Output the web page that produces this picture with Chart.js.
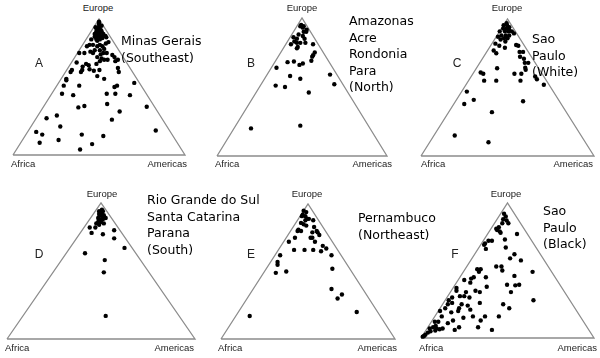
<!DOCTYPE html>
<html><head><meta charset="utf-8">
<script src="https://cdn.jsdelivr.net/npm/chart.js@4.4.1/dist/chart.umd.min.js"></script>
<style>
html,body{margin:0;padding:0;background:#fff;}
#wrap{position:relative;width:600px;height:358px;overflow:hidden;background:#fff;}
canvas{position:absolute;}
.ax{position:absolute;font:9.5px "Liberation Sans",Arial,sans-serif;color:#222;white-space:nowrap;line-height:10px;}
.let{position:absolute;font:12px "Liberation Sans",Arial,sans-serif;color:#222;line-height:12px;transform:translate(-50%,-50%);}
.reg{position:absolute;font:12.5px "DejaVu Sans",sans-serif;color:#000;line-height:16.5px;white-space:nowrap;}
</style></head><body><div id="wrap"></div>
<script>
// ---- data (ternary proportions: Europe, Americas; Africa = remainder) ----
const vertexLabels = ["Europe", "Africa", "Americas"];
const panelLetters = ["A", "B", "C", "D", "E", "F"];
const regionNames = [
  ["Minas Gerais", "(Southeast)"],
  ["Amazonas", "Acre", "Rondonia", "Para", "(North)"],
  ["Sao", "Paulo", "(White)"],
  ["Rio Grande do Sul", "Santa Catarina", "Parana", "(South)"],
  ["Pernambuco", "(Northeast)"],
  ["Sao", "Paulo", "(Black)"]
];

const aEurope = [.98,.97,.96,.95,.94,.94,.93,.92,.92,.91,.91,.91,.90,.89,.89,.89,.89,.88,.87,.87,.87,.87,.875,.865,.86,.85,.85,.85,.84,
  .82,.83,.81,.81,.81,.80,.80,.80,.78,.77,.77,.76,.75,.75,.75,.75,.75,.74,.735,.72,.72,.71,.70,.70,.70,.69,.69,.68,.67,.66,.65,.67,
  .63,.625,.625,.61,.64,.61,.62,.625,.58,.61,.56,.55,.56,.53,.51,.51,.51,.50,.45,.44,.45,.45,.44,.36,.35,.375,.355,.32,.29,.27,.26,
  .21,.17,.18,.15,.15,.14,.11,.09,.08,.04];
const aAmericas = [.01,.015,.02,.04,.01,.03,.02,.03,.05,.03,.05,.06,.04,.03,.05,.06,.08,.05,.04,.05,.07,.08,.10,.11,.09,.06,.08,.03,.07,
  .13,.14,.10,.06,.04,.03,.09,.12,.14,.12,.09,.07,.04,.01,.09,.15,.17,.14,.21,.23,.13,.16,.26,.20,.18,.25,.16,.03,.09,.11,.08,.15,
  .13,.09,.03,.03,.29,.31,.16,.19,.20,.09,.03,.035,.25,.44,.13,.04,.35,.34,.06,.13,.32,.37,.46,.235,.205,.36,.60,.46,.11,.06,.445,
  .17,.05,.74,.095,.325,.455,.21,.11,.42,.37];

const bEurope = [.95,.94,.915,.90,.90,.94,.93,.88,.87,.86,.85,.85,.81,.82,.82,.82,.81,.78,.79,.83,.75,.73,.72,.69,.68,.685,.66,.67,.64,.58,.56,.59,.51,.50,.52,.46,.20,.22];
const bAmericas = [.02,.04,.07,.06,.075,.02,.04,.04,.07,.02,.045,.09,.03,.06,.08,.11,.16,.08,.08,.04,.20,.20,.20,.21,.075,.11,.155,.17,.03,.14,.21,.37,.09,.15,.43,.31,.10,.38];

const cEurope = [.97,.955,.955,.94,.93,.93,.92,.91,.91,.91,.91,.895,.88,.88,.88,.87,.86,.86,.85,.835,.82,.805,.77,.75,.79,.81,.805,
  .76,.76,.725,.71,.68,.68,.645,.63,.60,.60,.64,.61,.60,.55,.55,.55,.58,.56,.52,.47,.41,.38,.40,.32,.15,.10];
const cAmericas = [.01,.00,.02,.04,.01,.03,.05,.00,.03,.05,.07,.09,.025,.05,.07,.01,.05,.07,.035,.07,.02,.05,.035,.06,.09,.145,.16,
  .19,.21,.21,.24,.26,.28,.28,.29,.28,.24,.12,.04,.06,.09,.16,.30,.37,.39,.45,.03,.10,.06,.39,.25,.12,.34];

const dEurope = [.94,.95,.94,.92,.92,.91,.905,.90,.89,.89,.88,.86,.85,.84,.86,.88,.82,.82,.85,.78,.77,.80,.74,.67,.63,.58,.49,.17];
const dAmericas = [.02,.03,.04,.03,.045,.06,.04,.06,.08,.04,.05,.055,.05,.07,.07,.07,.03,.06,.09,.06,.125,.17,.20,.29,.10,.23,.27,.44];

const eEurope = [.95,.94,.92,.91,.89,.88,.91,.89,.85,.84,.86,.88,.81,.80,.80,.83,.80,.79,.77,.79,.75,.75,.72,.72,.75,.69,.67,.65,.66,.66,.66,.62,.62,.57,.55,.49,.50,.52,.37,.33,.30,.17,.20];
const eAmericas = [.00,.02,.01,.03,.05,.045,.01,.06,.05,.07,.03,.09,.04,.06,.04,.12,.15,.16,.18,.13,.15,.14,.18,.03,.05,.24,.27,.25,.20,.15,.09,.325,.03,.04,.05,.07,.125,.38,.45,.53,.52,.08,.68];

const fEurope = [.92,.90,.88,.87,.85,.85,.82,.81,.80,.79,.78,.77,.73,.72,.72,.70,.69,.66,.67,.62,.59,.575,.53,.53,.50,.51,.51,.49,.49,
  .46,.45,.44,.43,.45,.41,.395,.39,.395,.38,.35,.34,.37,.35,.34,.31,.31,.30,.30,.28,.26,.25,.25,.24,.26,.34,.28,.25,.22,.20,.22,.21,
  .20,.19,.22,.16,.15,.16,.16,.16,.12,.12,.13,.11,.13,.09,.08,.07,.07,.065,.07,.055,.05,.04,.025,.01,.08,.06,.08,.06,.015];
const fAmericas = [.02,.04,.035,.06,.08,.045,.04,.03,.04,.06,.07,.17,.12,.05,.03,.02,.02,.045,.155,.23,.22,.29,.17,.20,.22,.09,.07,.09,.40,
  .31,.15,.07,.035,.08,.08,.30,.35,.37,.19,.14,.17,.02,.03,.09,.07,.095,.13,.03,.02,.05,.03,.11,.15,.21,.35,.51,.35,.11,.115,.03,.18,
  .01,.08,.40,.04,.17,.22,.29,.37,.02,.04,.12,.10,.28,.04,.03,.015,.055,.075,.09,.055,.03,.02,.013,.005,.18,.165,.29,.38,.01];

const europeSeries = [aEurope, bEurope, cEurope, dEurope, eEurope, fEurope];
const americasSeries = [aAmericas, bAmericas, cAmericas, dAmericas, eAmericas, fAmericas];

// ---- layout (triangle boxes and label placement, in page pixels) ----
const frames = [
  {x:13, y:19, w:172, h:136},
  {x:217, y:18, w:170, h:138},
  {x:421, y:19, w:173, h:137},
  {x:7, y:203, w:188, h:136},
  {x:221, y:204, w:174, h:135},
  {x:421, y:203, w:173, h:135}
];
const labelPos = [
  {eu:[98,8],  af:11,  am:187, by:164, let:[39,63],  reg:[121,33]},
  {eu:[302,8], af:215, am:392, by:164, let:[251,63], reg:[349,13]},
  {eu:[507,8], af:421, am:593, by:164, let:[457,63], reg:[532,31]},
  {eu:[102,194], af:5,   am:194, by:348, let:[39,254],  reg:[147,192]},
  {eu:[307,194], af:218, am:397, by:348, let:[251,254], reg:[358,210]},
  {eu:[506,194], af:419, am:597, by:348, let:[455,254], reg:[543,203]}
];

const wrap = document.getElementById('wrap');
function addDiv(cls, text, css) {
  const d = document.createElement('div');
  d.className = cls;
  d.innerHTML = text;
  Object.assign(d.style, css);
  wrap.appendChild(d);
  return d;
}

const triangle = [{x:0,y:0},{x:0.5,y:1},{x:1,y:0},{x:0,y:0}];
const M = 6;

for (let i = 0; i < 6; i++) {
  const f = frames[i];
  const c = document.createElement('canvas');
  c.width = f.w + 2*M; c.height = f.h + 2*M;
  c.style.left = (f.x - M) + 'px'; c.style.top = (f.y - M) + 'px';
  c.style.width = c.width + 'px'; c.style.height = c.height + 'px';
  wrap.appendChild(c);
  const eu = europeSeries[i], am = americasSeries[i];
  const pts = eu.map((e, k) => ({x: am[k] + e / 2, y: e}));
  new Chart(c, {
    type: 'scatter',
    data: {datasets: [
      {data: pts, pointRadius: 2.2, pointBackgroundColor: '#000', pointBorderWidth: 0, pointStyle: 'circle', showLine: false, clip: false, order: 0},
      {data: triangle, showLine: true, borderColor: '#8c8c8c', borderWidth: 1.3, pointRadius: 0, clip: false, order: 1, tension: 0, fill: false}
    ]},
    options: {
      responsive: false, animation: false, devicePixelRatio: 1, events: [],
      layout: {padding: M},
      plugins: {legend: {display: false}, tooltip: {enabled: false}},
      scales: {
        x: {type: 'linear', min: 0, max: 1, display: false},
        y: {type: 'linear', min: 0, max: 1, display: false}
      }
    }
  });

  const p = labelPos[i];
  addDiv('ax', vertexLabels[0], {left: p.eu[0] + 'px', top: p.eu[1] + 'px', transform: 'translate(-50%,-50%)'});
  addDiv('ax', vertexLabels[1], {left: p.af + 'px', top: p.by + 'px', transform: 'translate(0,-50%)'});
  addDiv('ax', vertexLabels[2], {left: p.am + 'px', top: p.by + 'px', transform: 'translate(-100%,-50%)'});
  addDiv('let', panelLetters[i], {left: p.let[0] + 'px', top: p.let[1] + 'px'});
  addDiv('reg', regionNames[i].join('<br>'), {left: p.reg[0] + 'px', top: p.reg[1] + 'px'});
}
</script></body></html>
